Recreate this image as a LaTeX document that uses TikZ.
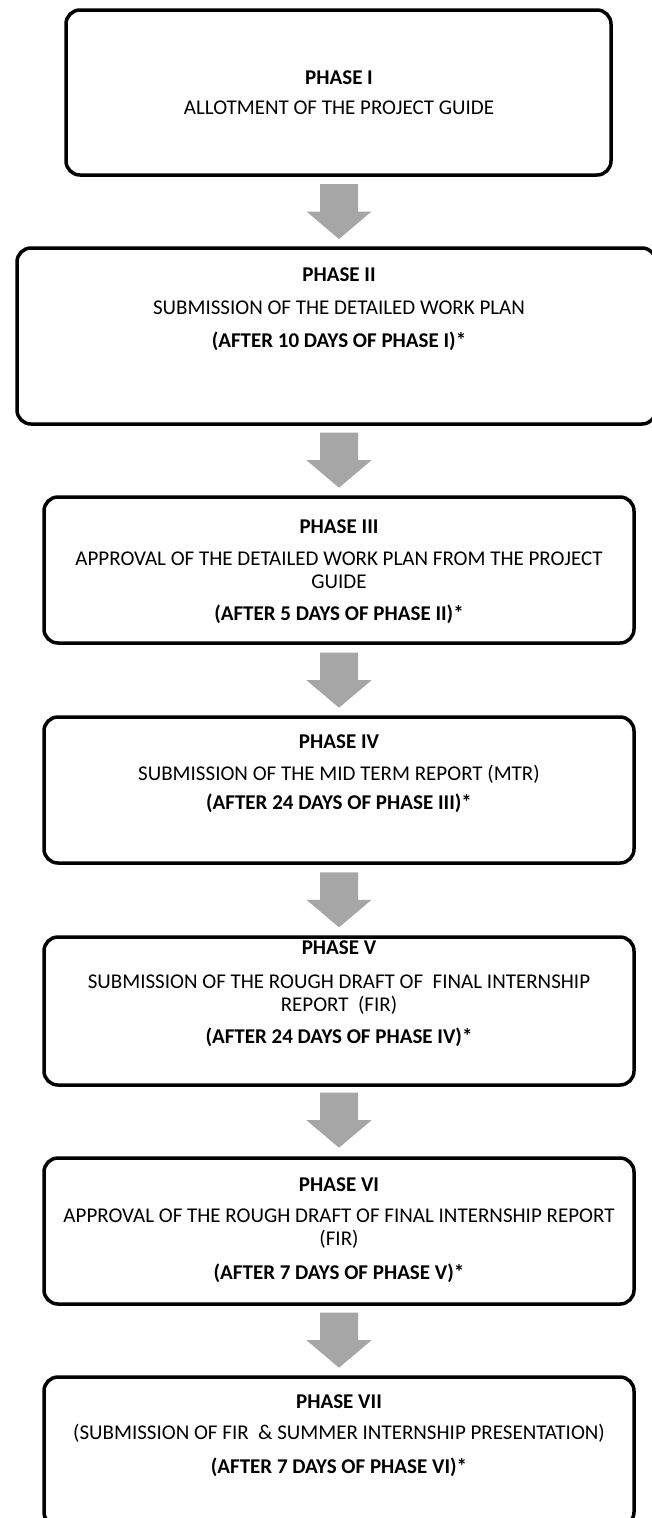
\documentclass[tikz,border=0pt]{standalone}
\usepackage{fontspec}
\setmainfont{Carlito}
\usetikzlibrary{calc}
\newcommand\fsz{\fontsize{21}{25}\selectfont}
\begin{document}
\begin{tikzpicture}[x=1pt,y=-1pt,
  pbox/.style={draw=black, line width=3.5pt, rounded corners=14pt, fill=none, inner sep=0pt, outer sep=0pt},
  garrow/.style={fill=black!35, draw=none},
  txt/.style={anchor=base, inner sep=0pt, font=\fsz, text=black},
  btxt/.style={txt, font=\fsz\bfseries}]
\useasboundingbox (0,0) rectangle (652,1518);
\clip (0,0) rectangle (652,1518);
\fill[white] (0,0) rectangle (652,1518);
% boxes
\node[pbox, minimum width=545pt, minimum height=165pt] (b1) at (338.5,92.5) {};
\node[pbox, minimum width=639pt, minimum height=176pt] (b2) at (336.5,336) {};
\node[pbox, minimum width=590pt, minimum height=146pt] (b3) at (339,570) {};
\node[pbox, minimum width=590pt, minimum height=146pt] (b4) at (339,790) {};
\node[pbox, minimum width=590pt, minimum height=148pt] (b5) at (339,1011) {};
\node[pbox, minimum width=590pt, minimum height=146pt] (b6) at (339,1231) {};
\node[pbox, minimum width=590pt, minimum height=149pt] (b7) at (339,1451.5) {};
% arrows
\foreach \n/\y in {1/184,2/432.7,3/652.7,4/872.3,5/1092.7,6/1312.7}{
  \coordinate (a\n) at (339,\y);
  \fill[garrow] (a\n) ++(-19,0) -- ++(38,0) -- ++(0,27.5) -- ++(13.5,0) -- ++(-32.5,27.5) -- ++(-32.5,-27.5) -- ++(13.5,0) -- cycle;
}
% texts
\node[btxt] (t1a) at (339,84.1) {PHASE I};
\node[txt] (t1b) at (339,114.9) {ALLOTMENT OF THE PROJECT GUIDE};
\node[btxt] (t2a) at (339,281.6) {PHASE II};
\node[txt] (t2b) at (339,314.1) {SUBMISSION OF THE DETAILED WORK PLAN};
\node[btxt] (t2c) at (339,347.6) {(AFTER 10 DAYS OF PHASE I)*};
\node[btxt] (t3a) at (339,533.6) {PHASE III};
\node[txt] (t3b) at (339,565.6) {APPROVAL OF THE DETAILED WORK PLAN FROM THE PROJECT};
\node[txt] (t3c) at (339,588.6) {GUIDE};
\node[btxt] (t3d) at (339,620.6) {(AFTER 5 DAYS OF PHASE II)*};
\node[btxt] (t4a) at (339,748.3) {PHASE IV};
\node[txt] (t4b) at (339,780.6) {SUBMISSION OF THE MID TERM REPORT (MTR)};
\node[btxt] (t4c) at (339,809.6) {(AFTER 24 DAYS OF PHASE III)*};
\node[btxt] (t5a) at (339,954.9) {PHASE V};
\node[txt] (t5b) at (339,988.3) {SUBMISSION OF THE ROUGH DRAFT OF\ \ FINAL INTERNSHIP};
\node[txt] (t5c) at (339,1011.6) {REPORT\ \ (FIR)};
\node[btxt] (t5d) at (339,1043.3) {(AFTER 24 DAYS OF PHASE IV)*};
\node[btxt] (t6a) at (339,1191.6) {PHASE VI};
\node[txt] (t6b) at (339,1222.1) {APPROVAL OF THE ROUGH DRAFT OF FINAL INTERNSHIP REPORT};
\node[txt] (t6c) at (339,1245.6) {(FIR)};
\node[btxt] (t6d) at (339,1279.6) {(AFTER 7 DAYS OF PHASE V)*};
\node[btxt] (t7a) at (339,1408.3) {PHASE VII};
\node[txt] (t7b) at (339,1439.9) {(SUBMISSION OF FIR\ \ \& SUMMER INTERNSHIP PRESENTATION)};
\node[btxt] (t7c) at (339,1473.3) {(AFTER 7 DAYS OF PHASE VI)*};
\end{tikzpicture}
\end{document}
